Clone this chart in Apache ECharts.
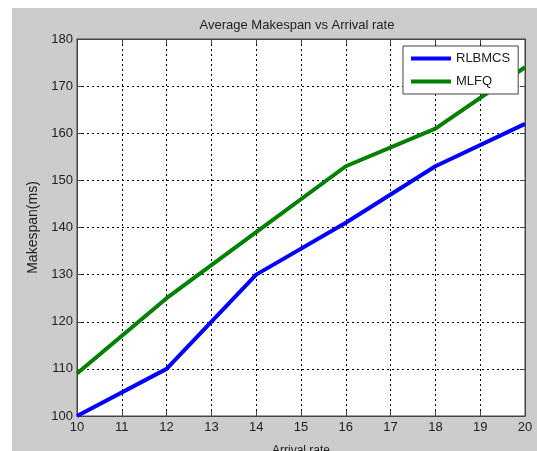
<!DOCTYPE html>
<html><head><meta charset="utf-8">
<script src="https://cdn.jsdelivr.net/npm/echarts@6/dist/echarts.min.js"></script>
<style>html,body{margin:0;padding:0;background:#fff}#c{width:537px;height:451px}</style>
</head><body><div id="c"></div>
<script>
var arrivalRate = [10, 12, 14, 16, 18, 20];
var rlbmcs = [100, 110, 130, 141, 153, 162];
var mlfq = [109, 125, 139, 153, 161, 174];
var xTicks = [10, 11, 12, 13, 14, 15, 16, 17, 18, 19, 20];
var yTicks = [100, 110, 120, 130, 140, 150, 160, 170, 180];

function pairs(xs, ys) { return xs.map(function (x, i) { return [x, ys[i]]; }); }

var chart = echarts.init(document.getElementById('c'));
var font = 'Liberation Sans, Arial, sans-serif';
var grid = { left: 77, right: 12, top: 39, bottom: 35 };
chart.setOption({
  animation: false,
  backgroundColor: '#fff',
  graphic: [{
    type: 'rect', left: 12, top: 8, z: -10,
    shape: { width: 530, height: 450 },
    style: { fill: '#cccccc' }
  }],
  title: {
    text: 'Average Makespan vs Arrival rate',
    left: 292, top: 14, textAlign: 'center',
    textStyle: { fontFamily: font, fontSize: 13, fontWeight: 'normal', color: '#222' }
  },
  legend: {
    orient: 'vertical', left: 403, top: 46,
    data: ['RLBMCS', 'MLFQ'],
    itemWidth: 40, itemHeight: 4, itemGap: 10,
    padding: [6, 8, 6, 8],
    backgroundColor: '#fff', borderColor: '#444', borderWidth: 1,
    textStyle: { fontFamily: font, fontSize: 13, color: '#222' },
    icon: 'rect'
  },
  grid: Object.assign({ show: true, backgroundColor: '#fff', borderColor: '#444', borderWidth: 1,
    containLabel: false, outerBoundsMode: 'none' }, grid),
  xAxis: [{
    type: 'value', min: xTicks[0], max: xTicks[xTicks.length - 1], interval: 1,
    name: 'Arrival rate', nameLocation: 'middle', nameGap: 29,
    nameTextStyle: { fontFamily: font, fontSize: 12, color: '#222' },
    axisLine: { lineStyle: { color: '#444' } },
    axisTick: { inside: true, length: 5, lineStyle: { color: '#444' } },
    axisLabel: { fontFamily: font, fontSize: 13, color: '#222', margin: 5 },
    splitLine: { show: true, lineStyle: { color: '#000', type: [2, 3], width: 1 } }
  }, {
    type: 'value', position: 'top', min: xTicks[0], max: xTicks[xTicks.length - 1], interval: 1,
    axisLine: { show: true, lineStyle: { color: '#444' } },
    axisTick: { inside: true, length: 5, lineStyle: { color: '#444' } },
    axisLabel: { show: false }, splitLine: { show: false }
  }],
  yAxis: [{
    type: 'value', min: yTicks[0], max: yTicks[yTicks.length - 1], interval: 10,
    name: 'Makespan(ms)', nameLocation: 'middle', nameGap: 33, nameRotate: 90,
    nameTextStyle: { fontFamily: font, fontSize: 14, color: '#222' },
    axisLine: { show: true, lineStyle: { color: '#444' } },
    axisTick: { show: true, inside: true, length: 5, lineStyle: { color: '#444' } },
    axisLabel: { fontFamily: font, fontSize: 13, color: '#222', margin: 4 },
    splitLine: { show: true, lineStyle: { color: '#000', type: [2, 3], width: 1 } }
  }, {
    type: 'value', position: 'right', min: yTicks[0], max: yTicks[yTicks.length - 1], interval: 10,
    axisLine: { show: true, lineStyle: { color: '#444' } },
    axisTick: { show: true, inside: true, length: 5, lineStyle: { color: '#444' } },
    axisLabel: { show: false }, splitLine: { show: false }
  }],
  series: [{
    name: 'RLBMCS', type: 'line', data: pairs(arrivalRate, rlbmcs),
    showSymbol: false, symbol: 'none', color: '#0000ff',
    lineStyle: { width: 4, color: '#0000ff' }
  }, {
    name: 'MLFQ', type: 'line', data: pairs(arrivalRate, mlfq),
    showSymbol: false, symbol: 'none', color: '#008000',
    lineStyle: { width: 4, color: '#008000' }
  }]
});
</script></body></html>
